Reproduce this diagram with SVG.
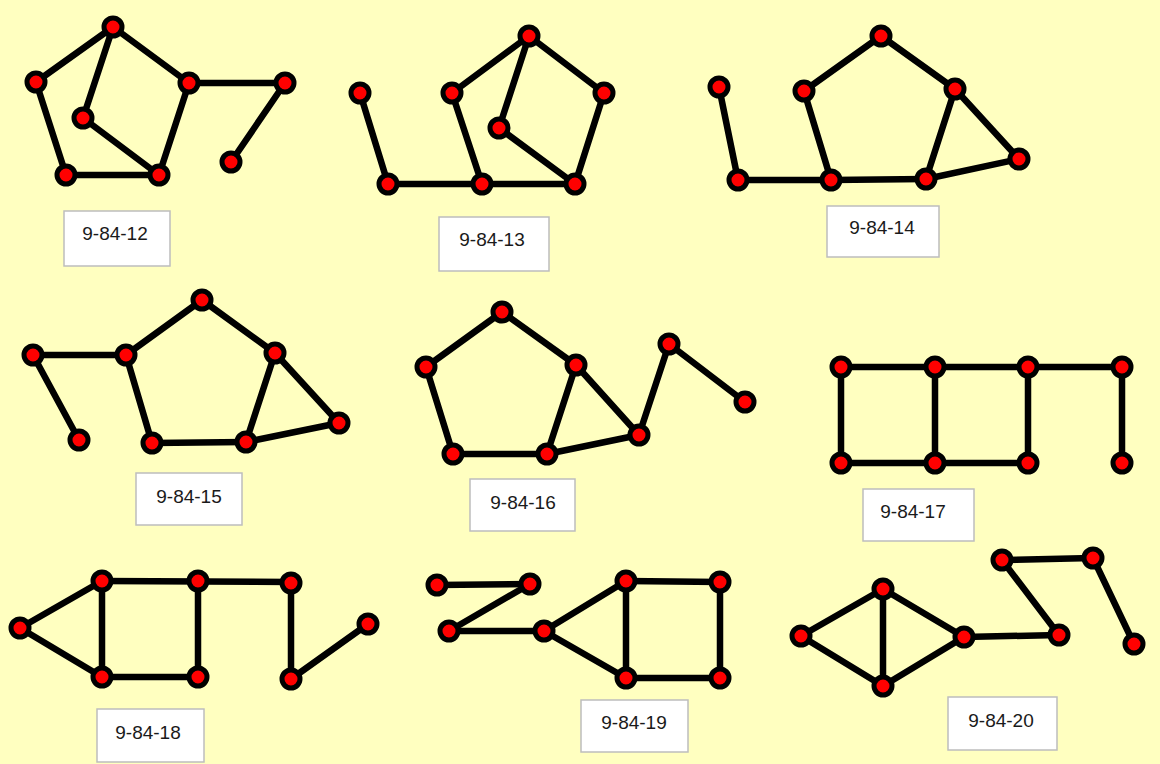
<svg xmlns="http://www.w3.org/2000/svg" width="1160" height="764" viewBox="0 0 1160 764">
<style>
.bg{fill:#FFFFC0}
.e{stroke:#000;stroke-width:6.5;stroke-linecap:round;fill:none}
.n{fill:#FF0000;stroke:#000;stroke-width:5}
.lb{fill:#fff;stroke:#BDBDBD;stroke-width:1.5}
.t{font-family:"Liberation Sans",Arial,sans-serif;font-size:19px;fill:#1a1a1a;text-anchor:middle}
</style>
<rect class="bg" x="0" y="0" width="1160" height="764"/>
<g id="connectors">
<!-- 9-84-12 -->
<line class="e" x1="113" y1="27" x2="36" y2="82"/>
<line class="e" x1="113" y1="27" x2="83" y2="118"/>
<line class="e" x1="113" y1="27" x2="189" y2="83"/>
<line class="e" x1="36" y1="82" x2="66" y2="175"/>
<line class="e" x1="83" y1="118" x2="159" y2="175"/>
<line class="e" x1="189" y1="83" x2="159" y2="175"/>
<line class="e" x1="66" y1="175" x2="159" y2="175"/>
<line class="e" x1="189" y1="83" x2="285" y2="83"/>
<line class="e" x1="285" y1="83" x2="231" y2="162"/>
<!-- 9-84-13 -->
<line class="e" x1="360" y1="93" x2="388" y2="184"/>
<line class="e" x1="388" y1="184" x2="482" y2="184"/>
<line class="e" x1="482" y1="184" x2="575" y2="184"/>
<line class="e" x1="452" y1="93" x2="482" y2="184"/>
<line class="e" x1="529" y1="36" x2="452" y2="93"/>
<line class="e" x1="529" y1="36" x2="499" y2="128"/>
<line class="e" x1="499" y1="128" x2="575" y2="184"/>
<line class="e" x1="529" y1="36" x2="604" y2="93"/>
<line class="e" x1="604" y1="93" x2="575" y2="184"/>
<!-- 9-84-14 -->
<line class="e" x1="719" y1="87" x2="738" y2="180"/>
<line class="e" x1="738" y1="180" x2="831" y2="180"/>
<line class="e" x1="831" y1="180" x2="926" y2="179"/>
<line class="e" x1="804" y1="91" x2="831" y2="180"/>
<line class="e" x1="881" y1="36" x2="804" y2="91"/>
<line class="e" x1="881" y1="36" x2="955" y2="89"/>
<line class="e" x1="955" y1="89" x2="926" y2="179"/>
<line class="e" x1="955" y1="89" x2="1019" y2="159"/>
<line class="e" x1="926" y1="179" x2="1019" y2="159"/>
<!-- 9-84-15 -->
<line class="e" x1="33" y1="355" x2="126" y2="355"/>
<line class="e" x1="33" y1="355" x2="79" y2="440"/>
<line class="e" x1="202" y1="300" x2="126" y2="355"/>
<line class="e" x1="126" y1="355" x2="152" y2="443"/>
<line class="e" x1="152" y1="443" x2="246" y2="442"/>
<line class="e" x1="202" y1="300" x2="275" y2="353"/>
<line class="e" x1="275" y1="353" x2="246" y2="442"/>
<line class="e" x1="275" y1="353" x2="339" y2="423"/>
<line class="e" x1="246" y1="442" x2="339" y2="423"/>
<!-- 9-84-16 -->
<line class="e" x1="502" y1="312" x2="426" y2="367"/>
<line class="e" x1="502" y1="312" x2="576" y2="365"/>
<line class="e" x1="426" y1="367" x2="453" y2="454"/>
<line class="e" x1="453" y1="454" x2="547" y2="454"/>
<line class="e" x1="576" y1="365" x2="547" y2="454"/>
<line class="e" x1="576" y1="365" x2="639" y2="435"/>
<line class="e" x1="547" y1="454" x2="639" y2="435"/>
<line class="e" x1="639" y1="435" x2="669" y2="344"/>
<line class="e" x1="669" y1="344" x2="745" y2="402"/>
<!-- 9-84-17 -->
<line class="e" x1="841" y1="367" x2="1122" y2="367"/>
<line class="e" x1="841" y1="367" x2="841" y2="463"/>
<line class="e" x1="935" y1="367" x2="935" y2="463"/>
<line class="e" x1="1028" y1="367" x2="1028" y2="463"/>
<line class="e" x1="1122" y1="367" x2="1122" y2="463"/>
<line class="e" x1="841" y1="463" x2="1028" y2="463"/>
<!-- 9-84-18 -->
<line class="e" x1="20" y1="628" x2="102" y2="581"/>
<line class="e" x1="20" y1="628" x2="102" y2="677"/>
<line class="e" x1="102" y1="581" x2="102" y2="677"/>
<line class="e" x1="102" y1="581" x2="291" y2="582"/>
<line class="e" x1="102" y1="677" x2="198" y2="677"/>
<line class="e" x1="198" y1="581" x2="198" y2="677"/>
<line class="e" x1="291" y1="583" x2="291" y2="679"/>
<line class="e" x1="291" y1="679" x2="368" y2="624"/>
<!-- 9-84-19 -->
<line class="e" x1="437" y1="585" x2="530" y2="584"/>
<line class="e" x1="530" y1="584" x2="449" y2="631"/>
<line class="e" x1="449" y1="631" x2="544" y2="631"/>
<line class="e" x1="544" y1="631" x2="626" y2="581"/>
<line class="e" x1="544" y1="631" x2="626" y2="678"/>
<line class="e" x1="626" y1="581" x2="626" y2="678"/>
<line class="e" x1="626" y1="581" x2="720" y2="582"/>
<line class="e" x1="720" y1="582" x2="720" y2="678"/>
<line class="e" x1="626" y1="678" x2="720" y2="678"/>
<!-- 9-84-20 -->
<line class="e" x1="801" y1="636" x2="883" y2="589"/>
<line class="e" x1="801" y1="636" x2="883" y2="686"/>
<line class="e" x1="883" y1="589" x2="883" y2="686"/>
<line class="e" x1="883" y1="589" x2="964" y2="637"/>
<line class="e" x1="883" y1="686" x2="964" y2="637"/>
<line class="e" x1="964" y1="637" x2="1059" y2="635"/>
<line class="e" x1="1059" y1="635" x2="1002" y2="560"/>
<line class="e" x1="1002" y1="560" x2="1093" y2="558"/>
<line class="e" x1="1093" y1="558" x2="1134" y2="644"/>
</g>
<!-- nodes 9-84-12 -->
<g id="g12-a"><circle class="n" cx="113" cy="27" r="9"/></g>
<g id="g12-b"><circle class="n" cx="36" cy="82" r="9"/></g>
<g id="g12-c"><circle class="n" cx="83" cy="118" r="9"/></g>
<g id="g12-d"><circle class="n" cx="189" cy="83" r="9"/></g>
<g id="g12-e"><circle class="n" cx="66" cy="175" r="9"/></g>
<g id="g12-f"><circle class="n" cx="159" cy="175" r="9"/></g>
<g id="g12-g"><circle class="n" cx="285" cy="83" r="9"/></g>
<g id="g12-h"><circle class="n" cx="231" cy="162" r="9"/></g>
<!-- nodes 9-84-13 -->
<g id="g13-a"><circle class="n" cx="529" cy="36" r="9"/></g>
<g id="g13-b"><circle class="n" cx="452" cy="93" r="9"/></g>
<g id="g13-c"><circle class="n" cx="499" cy="128" r="9"/></g>
<g id="g13-d"><circle class="n" cx="604" cy="93" r="9"/></g>
<g id="g13-e"><circle class="n" cx="360" cy="93" r="9"/></g>
<g id="g13-f"><circle class="n" cx="388" cy="184" r="9"/></g>
<g id="g13-g"><circle class="n" cx="482" cy="184" r="9"/></g>
<g id="g13-h"><circle class="n" cx="575" cy="184" r="9"/></g>
<!-- nodes 9-84-14 -->
<g id="g14-a"><circle class="n" cx="881" cy="36" r="9"/></g>
<g id="g14-b"><circle class="n" cx="804" cy="91" r="9"/></g>
<g id="g14-c"><circle class="n" cx="955" cy="89" r="9"/></g>
<g id="g14-d"><circle class="n" cx="719" cy="87" r="9"/></g>
<g id="g14-e"><circle class="n" cx="738" cy="180" r="9"/></g>
<g id="g14-f"><circle class="n" cx="831" cy="180" r="9"/></g>
<g id="g14-g"><circle class="n" cx="926" cy="179" r="9"/></g>
<g id="g14-h"><circle class="n" cx="1019" cy="159" r="9"/></g>
<!-- nodes 9-84-15 -->
<g id="g15-a"><circle class="n" cx="202" cy="300" r="9"/></g>
<g id="g15-b"><circle class="n" cx="126" cy="355" r="9"/></g>
<g id="g15-c"><circle class="n" cx="275" cy="353" r="9"/></g>
<g id="g15-d"><circle class="n" cx="33" cy="355" r="9"/></g>
<g id="g15-e"><circle class="n" cx="79" cy="440" r="9"/></g>
<g id="g15-f"><circle class="n" cx="152" cy="443" r="9"/></g>
<g id="g15-g"><circle class="n" cx="246" cy="442" r="9"/></g>
<g id="g15-h"><circle class="n" cx="339" cy="423" r="9"/></g>
<!-- nodes 9-84-16 -->
<g id="g16-a"><circle class="n" cx="502" cy="312" r="9"/></g>
<g id="g16-b"><circle class="n" cx="426" cy="367" r="9"/></g>
<g id="g16-c"><circle class="n" cx="576" cy="365" r="9"/></g>
<g id="g16-d"><circle class="n" cx="453" cy="454" r="9"/></g>
<g id="g16-e"><circle class="n" cx="547" cy="454" r="9"/></g>
<g id="g16-f"><circle class="n" cx="639" cy="435" r="9"/></g>
<g id="g16-g"><circle class="n" cx="669" cy="344" r="9"/></g>
<g id="g16-h"><circle class="n" cx="745" cy="402" r="9"/></g>
<!-- nodes 9-84-17 -->
<g id="g17-a"><circle class="n" cx="841" cy="367" r="9"/></g>
<g id="g17-b"><circle class="n" cx="935" cy="367" r="9"/></g>
<g id="g17-c"><circle class="n" cx="1028" cy="367" r="9"/></g>
<g id="g17-d"><circle class="n" cx="1122" cy="367" r="9"/></g>
<g id="g17-e"><circle class="n" cx="841" cy="463" r="9"/></g>
<g id="g17-f"><circle class="n" cx="935" cy="463" r="9"/></g>
<g id="g17-g"><circle class="n" cx="1028" cy="463" r="9"/></g>
<g id="g17-h"><circle class="n" cx="1122" cy="463" r="9"/></g>
<!-- nodes 9-84-18 -->
<g id="g18-a"><circle class="n" cx="20" cy="628" r="9"/></g>
<g id="g18-b"><circle class="n" cx="102" cy="581" r="9"/></g>
<g id="g18-c"><circle class="n" cx="102" cy="677" r="9"/></g>
<g id="g18-d"><circle class="n" cx="198" cy="581" r="9"/></g>
<g id="g18-e"><circle class="n" cx="198" cy="677" r="9"/></g>
<g id="g18-f"><circle class="n" cx="291" cy="583" r="9"/></g>
<g id="g18-g"><circle class="n" cx="291" cy="679" r="9"/></g>
<g id="g18-h"><circle class="n" cx="368" cy="624" r="9"/></g>
<!-- nodes 9-84-19 -->
<g id="g19-a"><circle class="n" cx="437" cy="585" r="9"/></g>
<g id="g19-b"><circle class="n" cx="530" cy="584" r="9"/></g>
<g id="g19-c"><circle class="n" cx="449" cy="631" r="9"/></g>
<g id="g19-d"><circle class="n" cx="544" cy="631" r="9"/></g>
<g id="g19-e"><circle class="n" cx="626" cy="581" r="9"/></g>
<g id="g19-f"><circle class="n" cx="720" cy="582" r="9"/></g>
<g id="g19-g"><circle class="n" cx="626" cy="678" r="9"/></g>
<g id="g19-h"><circle class="n" cx="720" cy="678" r="9"/></g>
<!-- nodes 9-84-20 -->
<g id="g20-a"><circle class="n" cx="801" cy="636" r="9"/></g>
<g id="g20-b"><circle class="n" cx="883" cy="589" r="9"/></g>
<g id="g20-c"><circle class="n" cx="883" cy="686" r="9"/></g>
<g id="g20-d"><circle class="n" cx="964" cy="637" r="9"/></g>
<g id="g20-e"><circle class="n" cx="1059" cy="635" r="9"/></g>
<g id="g20-f"><circle class="n" cx="1002" cy="560" r="9"/></g>
<g id="g20-g"><circle class="n" cx="1093" cy="558" r="9"/></g>
<g id="g20-h"><circle class="n" cx="1134" cy="644" r="9"/></g>
<!-- labels -->
<g id="label-12"><rect class="lb" x="64" y="211" width="106" height="55"/><text class="t" x="115" y="240">9-84-12</text></g>
<g id="label-13"><rect class="lb" x="439" y="217" width="110" height="54"/><text class="t" x="492" y="246">9-84-13</text></g>
<g id="label-14"><rect class="lb" x="827" y="206" width="112" height="51"/><text class="t" x="882" y="234">9-84-14</text></g>
<g id="label-15"><rect class="lb" x="136" y="473" width="106" height="52"/><text class="t" x="189" y="503">9-84-15</text></g>
<g id="label-16"><rect class="lb" x="470" y="479" width="105" height="52"/><text class="t" x="523" y="509">9-84-16</text></g>
<g id="label-17"><rect class="lb" x="863" y="489" width="111" height="52"/><text class="t" x="913" y="518">9-84-17</text></g>
<g id="label-18"><rect class="lb" x="97" y="709" width="107" height="53"/><text class="t" x="148" y="739">9-84-18</text></g>
<g id="label-19"><rect class="lb" x="581" y="700" width="107" height="52"/><text class="t" x="634" y="729">9-84-19</text></g>
<g id="label-20"><rect class="lb" x="948" y="697" width="109" height="53"/><text class="t" x="1001" y="727">9-84-20</text></g>
</svg>
